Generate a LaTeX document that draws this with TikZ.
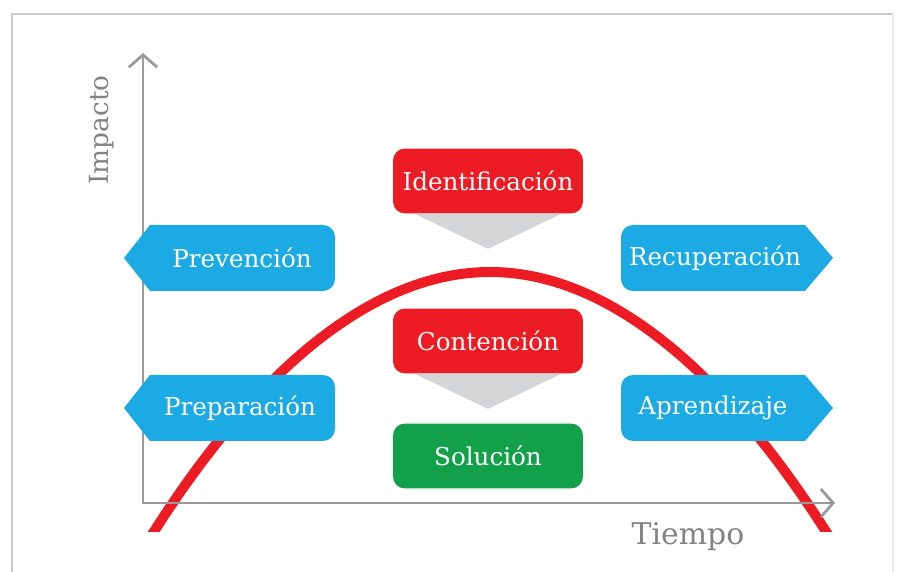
\documentclass[tikz,border=0pt]{standalone}
\usepackage{fontspec}
\setmainfont{DejaVu Serif}
\usetikzlibrary{arrows.meta}
\definecolor{cielo}{HTML}{1BAAE3}
\definecolor{rojo}{HTML}{ED1C24}
\definecolor{verde}{HTML}{12A04A}
\definecolor{gristri}{HTML}{D3D5D6}
\definecolor{gris}{HTML}{9A9A9A}
\begin{document}
\begin{tikzpicture}[x=0.02cm,y=0.02cm,
  eje/.style={gris,line width=1.6pt,{Straight Barb[length=7pt,width=16pt]}-{Straight Barb[length=7pt,width=16pt]}},
  rotulo/.style={text=gris!85!black,font=\fontsize{15}{18}\selectfont},
  caja/.style={rounded corners=0.24cm,minimum width=3.8cm,minimum height=1.3cm,text=white,font=\fontsize{14}{16}\selectfont},
  texto/.style={text=white,font=\fontsize{14}{16}\selectfont},
  flecha/.style={fill=gristri}]
 \useasboundingbox (0,0) rectangle (897,572);
 % marco
 \draw[gray!40,line width=1.2pt] (12,0) -- (12,558) -- (893,558);
 \draw[gray!15,line width=1pt] (893,558) -- (893,0);
 % curva
 \begin{scope}
  \clip (0,40) rectangle (897,572);
  \draw[rojo,line width=0.2cm] (151.1,36) parabola bend (490,300) (828.9,36);
 \end{scope}
 % ejes
 \draw[eje] (143,519) -- (143,69) -- (835,69);
 \node[rotulo,rotate=90] (imp) at (102,442) {Impacto};
 \node[rotulo,font=\fontsize{17}{20}\selectfont] (tie) at (688,35) {Tiempo};
 % cajas azules
 \fill[cielo] (124,314) -- (150,347) -- (323,347) arc[start angle=90,end angle=0,radius=12]
   -- (335,293) arc[start angle=0,end angle=-90,radius=12] -- (150,281) -- cycle;
 \fill[cielo] (124,164) -- (150,197) -- (323,197) arc[start angle=90,end angle=0,radius=12]
   -- (335,143) arc[start angle=0,end angle=-90,radius=12] -- (150,131) -- cycle;
 \fill[cielo] (833,314) -- (805,347) -- (633,347) arc[start angle=90,end angle=180,radius=12]
   -- (621,293) arc[start angle=180,end angle=270,radius=12] -- (805,281) -- cycle;
 \fill[cielo] (833,164) -- (805,197) -- (633,197) arc[start angle=90,end angle=180,radius=12]
   -- (621,143) arc[start angle=180,end angle=270,radius=12] -- (805,131) -- cycle;
 \node[texto] (prev) at (242,314) {Prevención};
 \node[texto] (prep) at (240,164) {Preparación};
 \node[texto] (recu) at (715,314) {Recuperación};
 \node[texto] (apre) at (713,164) {Aprendizaje};
 % cajas centrales
 \node[caja,fill=rojo] (iden) at (488,391) {Identificación};
 \node[caja,fill=rojo] (cont) at (488,231) {Contención};
 \node[caja,fill=verde] (solu) at (488,116) {Solución};
 \fill[flecha] ([xshift=0.44cm]iden.south west) -- ([xshift=-0.44cm]iden.south east)
   -- ([yshift=-0.7cm]iden.south) -- cycle;
 \fill[flecha] ([xshift=0.44cm]cont.south west) -- ([xshift=-0.44cm]cont.south east)
   -- ([yshift=-0.7cm]cont.south) -- cycle;
\end{tikzpicture}
\end{document}
